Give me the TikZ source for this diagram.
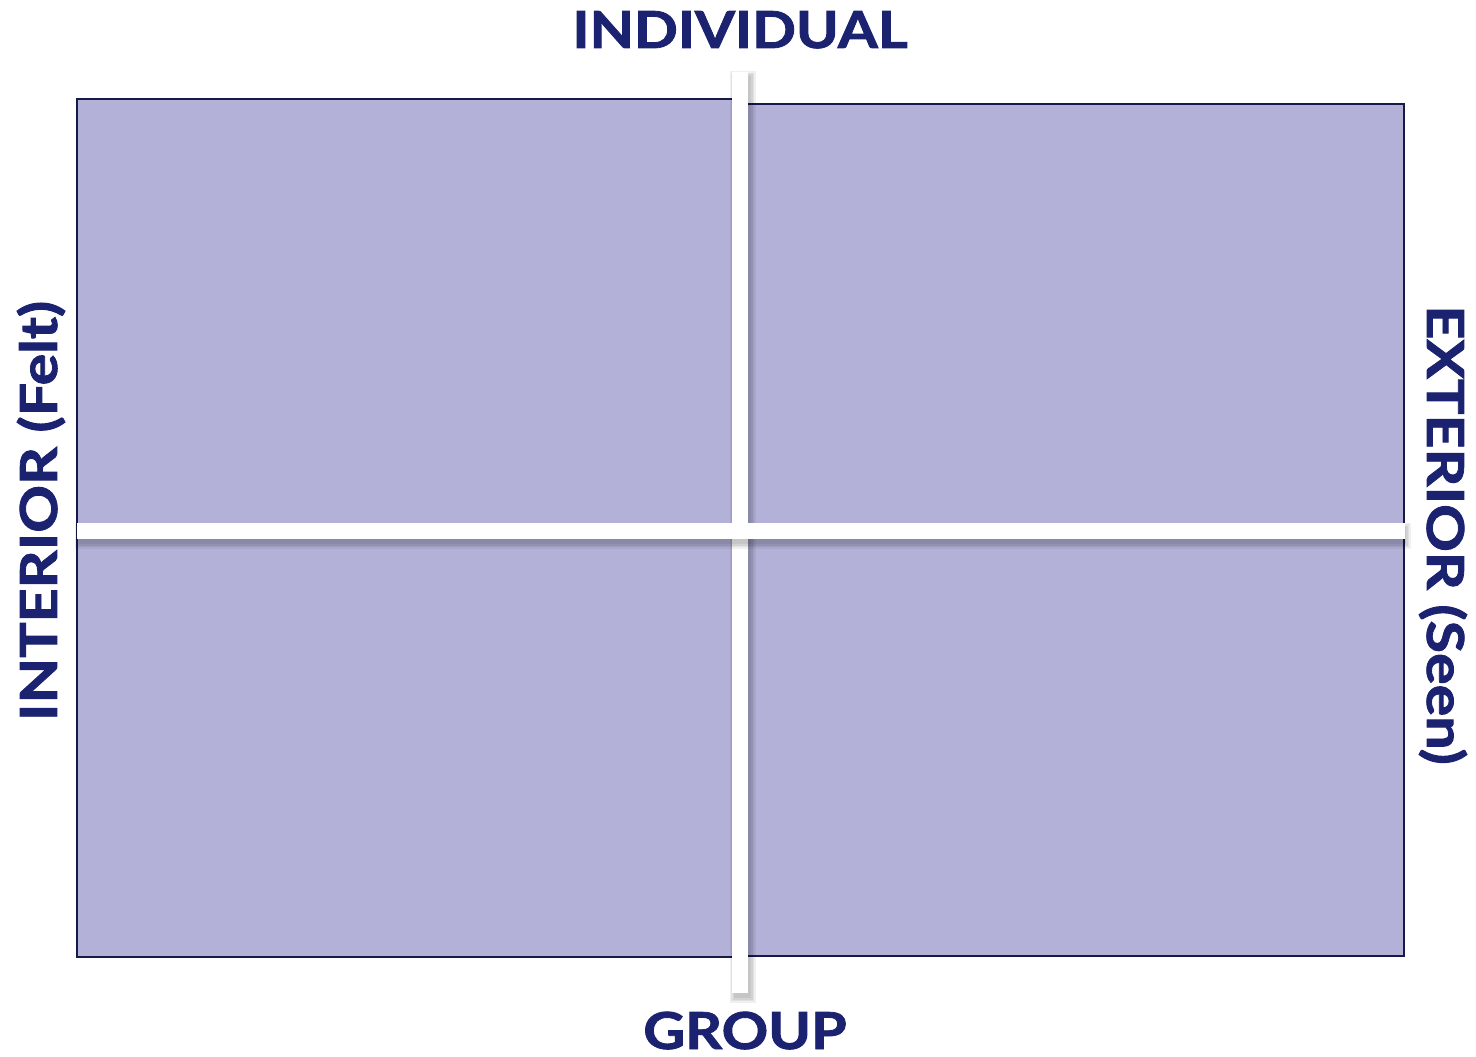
\documentclass[tikz,border=0pt]{standalone}
\usepackage{fontspec}
\setmainfont{Lato}[BoldFeatures={FakeBold=1.6}]
\definecolor{quadfill}{HTML}{B3B1D8}
\definecolor{quadline}{HTML}{141A4A}
\definecolor{labelnavy}{HTML}{1B2270}
\begin{document}
\begin{tikzpicture}[x=1pt,y=-1pt,
  quad/.style={fill=quadfill,draw=quadline,line width=2pt},
  bar/.style={fill=white,draw=none,inner sep=0pt},
  softshadow/.style={fill=black,opacity=0.06,draw=none},
  axislabel/.style={text=labelnavy,font=\fontsize{51}{51}\selectfont\bfseries,inner sep=0pt}]
\useasboundingbox (0,0) rectangle (1476,1057);
\fill[white] (0,0) rectangle (1476,1057);
\draw[quad] (77,99) rectangle (740,957);
\draw[quad] (740,104) rectangle (1404,956);
% soft shadow of the vertical bar
\foreach \e in {0,1.5,3,4.5}{
  \fill[softshadow] (734-\e,76-\e) rectangle (751+\e,998+\e);
}
\node[bar,minimum width=16pt,minimum height=921pt] (vbar) at (740,532.5) {};
% soft shadow of the horizontal bar
\foreach \e in {0,1.5,3,4.5}{
  \fill[softshadow] (79-\e,527-\e) rectangle (1406+\e,544+\e);
}
\node[bar,minimum width=1328pt,minimum height=16pt] (hbar) at (741,531) {};
\node[axislabel,anchor=base,xscale=1.13] (individual) at (740,48) {INDIVIDUAL};
\node[axislabel,anchor=base,xscale=1.13] (group) at (745,1049) {GROUP};
\node[axislabel,rotate=90,xscale=1.16] (interior) at (41,511) {INTERIOR (Felt)};
\node[axislabel,rotate=-90,xscale=1.16] (exterior) at (1443,535) {EXTERIOR (Seen)};
\end{tikzpicture}
\end{document}
